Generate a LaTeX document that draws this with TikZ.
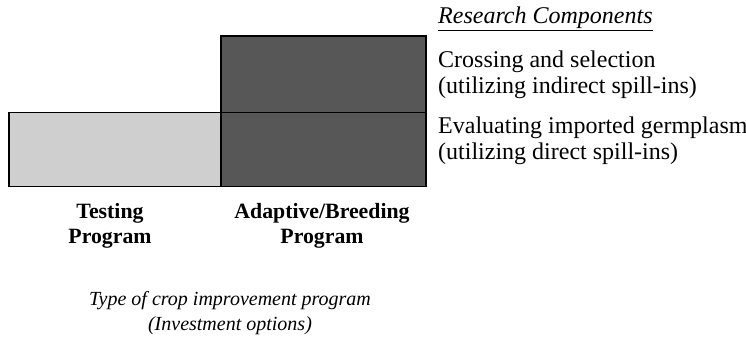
\documentclass[tikz,border=0pt]{standalone}
\usepackage{fontspec}
\setmainfont{Liberation Serif}
\usepackage{tikz}
\definecolor{testgray}{rgb}{0.81, 0.81, 0.81}
\definecolor{breedgray}{rgb}{0.34, 0.34, 0.34}
\tikzset{
  progbox/.style={draw=black, line width=1.4pt, rectangle, inner sep=0pt},
  comptext/.style={anchor=west, align=left, inner sep=0pt, font=\fontsize{24}{26}\selectfont},
  progtext/.style={align=center, inner sep=0pt, font=\fontsize{21.8}{25}\selectfont\bfseries},
  captext/.style={align=center, inner sep=0pt, font=\fontsize{20}{25}\selectfont\itshape}
}
\begin{document}
\begin{tikzpicture}[x=1pt, y=-1pt]
            \useasboundingbox (0,0) rectangle (746,338);
            % program blocks
            \node[progbox, fill=testgray, minimum width=212pt, minimum height=74pt] (test) at (115,149.5) {};
            \node[progbox, fill=breedgray, minimum width=205pt, minimum height=76.5pt] (indirect) at (323.5,74.25) {};
            \node[progbox, fill=breedgray, minimum width=205pt, minimum height=74pt] (direct) at (323.5,149.5) {};

            % research components
            \node[comptext] (rchead) at (438,19) {\underline{\textit{Research Components}}};
            \node[comptext] (rccross) at (438,74.5) {Crossing and selection\\(utilizing indirect spill-ins)};
            \node[comptext] (rceval) at (438,140.5) {Evaluating imported germplasm\\(utilizing direct spill-ins)};

            % program labels
            \node[progtext] (testlab) at (110,225.5) {Testing\\Program};
            \node[progtext] (breedlab) at (322,225.5) {Adaptive/Breeding\\Program};
            \node[captext] (caption) at (230,313.5) {Type of crop improvement program\\(Investment options)};
\end{tikzpicture}
\end{document}
